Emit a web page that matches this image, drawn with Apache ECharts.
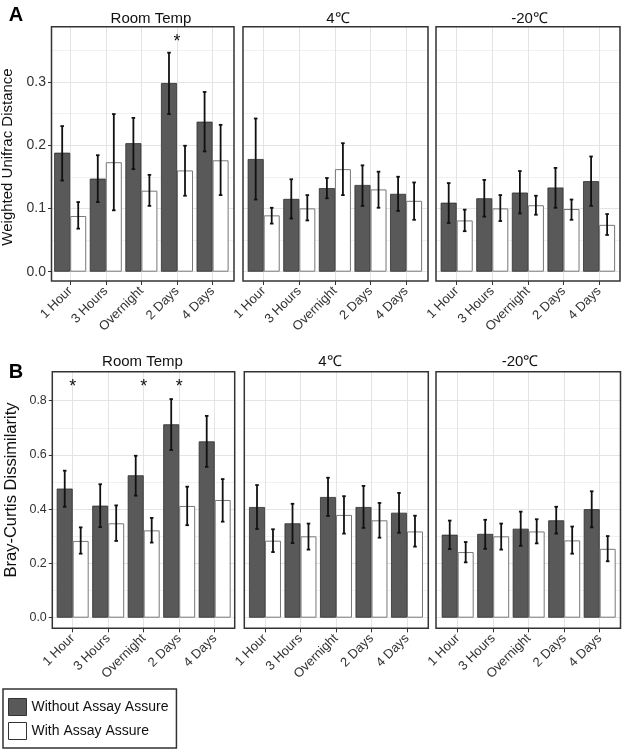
<!DOCTYPE html>
<html><head><meta charset="utf-8">
<script src="https://cdn.jsdelivr.net/npm/echarts@6/dist/echarts.min.js"></script>
<style>html,body{margin:0;padding:0;background:#fff}#c{width:622px;height:749px}</style>
</head><body><div id="c"></div>
<script>
// ---------------- data ----------------
const categories = ['1 Hour', '3 Hours', 'Overnight', '2 Days', '4 Days'];
const facetNames = ['Room Temp', '4\u2103', '-20\u2103'];
const seriesNames = ['Without Assay Assure', 'With Assay Assure'];

// Panel A: Weighted Unifrac Distance
const unifracRoomWithout   = [0.188, 0.147, 0.203, 0.298, 0.237];
const unifracRoomWithoutLo = [0.144, 0.110, 0.162, 0.249, 0.190];
const unifracRoomWithoutHi = [0.230, 0.184, 0.243, 0.346, 0.284];
const unifracRoomWith      = [0.088, 0.173, 0.128, 0.160, 0.176];
const unifracRoomWithLo    = [0.068, 0.097, 0.104, 0.120, 0.121];
const unifracRoomWithHi    = [0.110, 0.249, 0.153, 0.199, 0.232];

const unifrac4Without   = [0.178, 0.115, 0.132, 0.137, 0.123];
const unifrac4WithoutLo = [0.114, 0.084, 0.116, 0.104, 0.096];
const unifrac4WithoutHi = [0.242, 0.146, 0.148, 0.168, 0.150];
const unifrac4With      = [0.089, 0.100, 0.162, 0.130, 0.112];
const unifrac4WithLo    = [0.076, 0.081, 0.121, 0.101, 0.082];
const unifrac4WithHi    = [0.101, 0.121, 0.203, 0.158, 0.141];

const unifrac20Without   = [0.109, 0.116, 0.125, 0.133, 0.143];
const unifrac20WithoutLo = [0.077, 0.087, 0.092, 0.101, 0.104];
const unifrac20WithoutHi = [0.140, 0.145, 0.159, 0.164, 0.182];
const unifrac20With      = [0.081, 0.100, 0.105, 0.099, 0.074];
const unifrac20WithLo    = [0.064, 0.080, 0.090, 0.082, 0.058];
const unifrac20WithHi    = [0.098, 0.121, 0.120, 0.114, 0.091];

const unifracRoomStars = [null, null, null, 0.369, null];

// Panel B: Bray-Curtis Dissimilarity
const brayRoomWithout   = [0.476, 0.413, 0.525, 0.713, 0.650];
const brayRoomWithoutLo = [0.409, 0.334, 0.450, 0.618, 0.556];
const brayRoomWithoutHi = [0.542, 0.492, 0.597, 0.806, 0.744];
const brayRoomWith      = [0.283, 0.348, 0.322, 0.412, 0.434];
const brayRoomWithLo    = [0.236, 0.283, 0.277, 0.341, 0.354];
const brayRoomWithHi    = [0.333, 0.414, 0.368, 0.483, 0.511];

const bray4Without   = [0.408, 0.348, 0.445, 0.408, 0.387];
const bray4WithoutLo = [0.327, 0.275, 0.375, 0.331, 0.313];
const bray4WithoutHi = [0.489, 0.420, 0.516, 0.486, 0.460];
const bray4With      = [0.284, 0.300, 0.379, 0.359, 0.318];
const bray4WithLo    = [0.242, 0.251, 0.310, 0.295, 0.262];
const bray4WithHi    = [0.326, 0.347, 0.448, 0.423, 0.376];

const bray20Without   = [0.306, 0.309, 0.328, 0.359, 0.400];
const bray20WithoutLo = [0.253, 0.254, 0.265, 0.310, 0.333];
const bray20WithoutHi = [0.358, 0.361, 0.391, 0.409, 0.466];
const bray20With      = [0.242, 0.300, 0.318, 0.285, 0.254];
const bray20WithLo    = [0.204, 0.251, 0.274, 0.236, 0.208];
const bray20WithHi    = [0.279, 0.347, 0.363, 0.336, 0.301];

const brayRoomStars = [0.866, null, 0.866, 0.866, null];

const yTicksA = [0, 0.1, 0.2, 0.3];
const yTicksB = [0, 0.2, 0.4, 0.6, 0.8];

// ---------------- layout ----------------
const FONT = '"Liberation Sans", Arial, Helvetica, sans-serif';
const DARK = '#595959';
const panels = [
  { letter: 'A', letterY: 5, yTitle: 'Weighted Unifrac Distance', yTitleX: 8, yTitleY: 157, yTitleSize: 15,
    zero: 271.7, ppu: 633, frameTop: 26.7, frameBot: 281, lineStep: 0.05, lineMax: 0.35,
    labTicks: yTicksA, tickFont: 14, stripY: 19, u: 35.6,
    facets: [
      { frameL: 51.5, frameR: 234, c0: 70.2, titleX: 151,
        w: unifracRoomWithout, wLo: unifracRoomWithoutLo, wHi: unifracRoomWithoutHi,
        a: unifracRoomWith, aLo: unifracRoomWithLo, aHi: unifracRoomWithHi, stars: unifracRoomStars },
      { frameL: 243, frameR: 428, c0: 263.7, titleX: 338,
        w: unifrac4Without, wLo: unifrac4WithoutLo, wHi: unifrac4WithoutHi,
        a: unifrac4With, aLo: unifrac4WithLo, aHi: unifrac4WithHi, stars: null },
      { frameL: 436, frameR: 620, c0: 456.7, titleX: 529.5,
        w: unifrac20Without, wLo: unifrac20WithoutLo, wHi: unifrac20WithoutHi,
        a: unifrac20With, aLo: unifrac20WithLo, aHi: unifrac20WithHi, stars: null }
    ] },
  { letter: 'B', letterY: 362, yTitle: 'Bray-Curtis Dissimilarity', yTitleX: 11, yTitleY: 490, yTitleSize: 16.5,
    zero: 617.7, ppu: 271.25, frameTop: 371.7, frameBot: 628.3, lineStep: 0.1, lineMax: 0.8,
    labTicks: yTicksB, tickFont: 12.5, stripY: 362, u: 35.5,
    facets: [
      { frameL: 52.3, frameR: 234.7, c0: 72.7, titleX: 142.5,
        w: brayRoomWithout, wLo: brayRoomWithoutLo, wHi: brayRoomWithoutHi,
        a: brayRoomWith, aLo: brayRoomWithLo, aHi: brayRoomWithHi, stars: brayRoomStars },
      { frameL: 244.3, frameR: 428.3, c0: 265, titleX: 330,
        w: bray4Without, wLo: bray4WithoutLo, wHi: bray4WithoutHi,
        a: bray4With, aLo: bray4WithLo, aHi: bray4WithHi, stars: null },
      { frameL: 436, frameR: 620.5, c0: 457.7, titleX: 520,
        w: bray20Without, wLo: bray20WithoutLo, wHi: bray20WithoutHi,
        a: bray20With, aLo: bray20WithLo, aHi: bray20WithHi, stars: null }
    ] }
];

const option = {
  animation: false,
  backgroundColor: '#fff',
  textStyle: { fontFamily: FONT },
  grid: [], xAxis: [], yAxis: [], series: [], graphic: [],
  legend: {
    orient: 'vertical', left: 3, top: 689, padding: [9, 8, 8, 5], itemGap: 6,
    itemWidth: 18, itemHeight: 17, icon: 'rect', selectedMode: false,
    borderColor: '#333', borderWidth: 1.5,
    textStyle: { fontSize: 14, color: '#111', fontFamily: FONT },
    data: [
      { name: seriesNames[0], itemStyle: { color: DARK, borderColor: '#333', borderWidth: 1 } },
      { name: seriesNames[1], itemStyle: { color: '#fff', borderColor: '#333', borderWidth: 1 } }
    ]
  }
};

function addGrid(rect, xAx, yAx) {
  const gi = option.grid.length;
  option.grid.push(Object.assign({ show: false, containLabel: false, outerBoundsMode: 'none' }, rect));
  option.xAxis.push(Object.assign({ gridIndex: gi }, xAx));
  option.yAxis.push(Object.assign({ gridIndex: gi }, yAx));
  return gi;
}
const hiddenVal = { type: 'value', min: 0, max: 1, show: false };

function errRender(params, api) {
  const idx = api.value(0), lo = api.value(1), hi = api.value(2), side = api.value(3);
  const band = api.size([1, 0])[0];
  const pLo = api.coord([idx, lo]), pHi = api.coord([idx, hi]);
  const x = pLo[0] + side * 0.225 * band;
  const cap = 0.05 * band;
  const st = { stroke: '#111', lineWidth: 1.8 };
  return { type: 'group', children: [
    { type: 'line', shape: { x1: x, y1: pLo[1], x2: x, y2: pHi[1] }, style: st },
    { type: 'line', shape: { x1: x - cap, y1: pLo[1], x2: x + cap, y2: pLo[1] }, style: st },
    { type: 'line', shape: { x1: x - cap, y1: pHi[1], x2: x + cap, y2: pHi[1] }, style: st }
  ] };
}
function starRender(params, api) {
  const p = api.coord([api.value(0), api.value(1)]);
  return { type: 'text', style: { text: '*', x: p[0], y: p[1] + 4, textAlign: 'center', textVerticalAlign: 'middle',
    fontSize: 18, fontFamily: FONT, fill: '#111' } };
}

panels.forEach(P => {
  const labMax = P.labTicks[P.labTicks.length - 1];
  const labStep = P.labTicks[1] - P.labTicks[0];
  P.facets.forEach((F, fi) => {
    const fw = F.frameR - F.frameL;
    // minor + major horizontal grid lines
    addGrid({ left: F.frameL, width: fw, top: P.zero - P.lineMax * P.ppu, height: P.lineMax * P.ppu },
      hiddenVal,
      { type: 'value', min: 0, max: P.lineMax, interval: P.lineStep,
        axisLine: { show: false }, axisTick: { show: false }, axisLabel: { show: false },
        splitLine: { show: true, lineStyle: { color: '#f1f1f1', width: 1 } } });
    // major lines + tick labels
    addGrid({ left: F.frameL, width: fw, top: P.zero - labMax * P.ppu, height: labMax * P.ppu },
      hiddenVal,
      { type: 'value', min: 0, max: labMax, interval: labStep,
        axisLine: { show: false },
        axisTick: { show: fi === 0, length: 3.5, lineStyle: { color: '#333', width: 1 } },
        axisLabel: { show: fi === 0, margin: 5.5, fontSize: P.tickFont, color: '#333', fontFamily: FONT,
          formatter: v => v.toFixed(1) },
        splitLine: { show: true, lineStyle: { color: '#e4e4e4', width: 1 } } });
    // vertical grid lines, x ticks and labels
    addGrid({ left: F.c0, width: 4 * P.u, top: P.frameTop, height: P.frameBot - P.frameTop },
      { type: 'category', data: categories, boundaryGap: false,
        axisLine: { show: false },
        axisTick: { show: true, interval: 0, length: 4, lineStyle: { color: '#333', width: 1 } },
        axisLabel: { interval: 0, rotate: 45, margin: 8, fontSize: 13, color: '#333', fontFamily: FONT,
          align: 'right', verticalAlign: 'middle' },
        splitLine: { show: true, interval: 0, lineStyle: { color: '#e4e4e4', width: 1 } } },
      hiddenVal);
    // data grid
    const yLo = -(P.frameBot - P.zero) / P.ppu;
    const yHi = (P.zero - P.frameTop) / P.ppu;
    const di = addGrid({ left: F.c0 - P.u / 2, width: 5 * P.u, top: P.frameTop, height: P.frameBot - P.frameTop },
      { type: 'category', data: categories, show: false },
      { type: 'value', min: yLo, max: yHi, show: false });
    option.series.push(
      { type: 'bar', name: seriesNames[0], xAxisIndex: di, yAxisIndex: di, data: F.w,
        barGap: '0%', barCategoryGap: '10%', z: 3,
        itemStyle: { color: DARK, borderColor: '#2e2e2e', borderWidth: 0.8 } },
      { type: 'bar', name: seriesNames[1], xAxisIndex: di, yAxisIndex: di, data: F.a,
        barGap: '0%', barCategoryGap: '10%', z: 3,
        itemStyle: { color: '#fff', borderColor: '#777', borderWidth: 1 } },
      { type: 'custom', xAxisIndex: di, yAxisIndex: di, z: 5, renderItem: errRender,
        data: categories.map((c, i) => [i, F.wLo[i], F.wHi[i], -1])
          .concat(categories.map((c, i) => [i, F.aLo[i], F.aHi[i], 1])) }
    );
    if (F.stars) {
      option.series.push({ type: 'custom', xAxisIndex: di, yAxisIndex: di, z: 6, renderItem: starRender,
        data: F.stars.map((v, i) => [i, v]).filter(d => d[1] != null) });
    }
    // frame
    option.graphic.push({ type: 'rect', z: 100, silent: true,
      shape: { x: F.frameL, y: P.frameTop, width: fw, height: P.frameBot - P.frameTop },
      style: { fill: 'none', stroke: '#333', lineWidth: 1.5 } });
    // strip title
    option.graphic.push({ type: 'text', z: 100, silent: true, x: F.titleX, y: P.stripY,
      style: { text: facetNames[fi], textAlign: 'center', textVerticalAlign: 'middle', fontSize: 15,
        fontFamily: FONT, fill: '#111' } });
  });
  option.graphic.push({ type: 'text', z: 100, silent: true, x: 16, y: P.letterY,
    style: { text: P.letter, textAlign: 'center', textVerticalAlign: 'top', fontSize: 20, fontWeight: 'bold',
      fontFamily: FONT, fill: '#000' } });
  option.graphic.push({ type: 'text', z: 100, silent: true, x: P.yTitleX, y: P.yTitleY, rotation: Math.PI / 2,
    style: { text: P.yTitle, textAlign: 'center', textVerticalAlign: 'middle', fontSize: P.yTitleSize,
      fontFamily: FONT, fill: '#111' } });
});

const chart = echarts.init(document.getElementById('c'), null, { renderer: 'canvas' });
chart.setOption(option);
</script>
</body></html>
